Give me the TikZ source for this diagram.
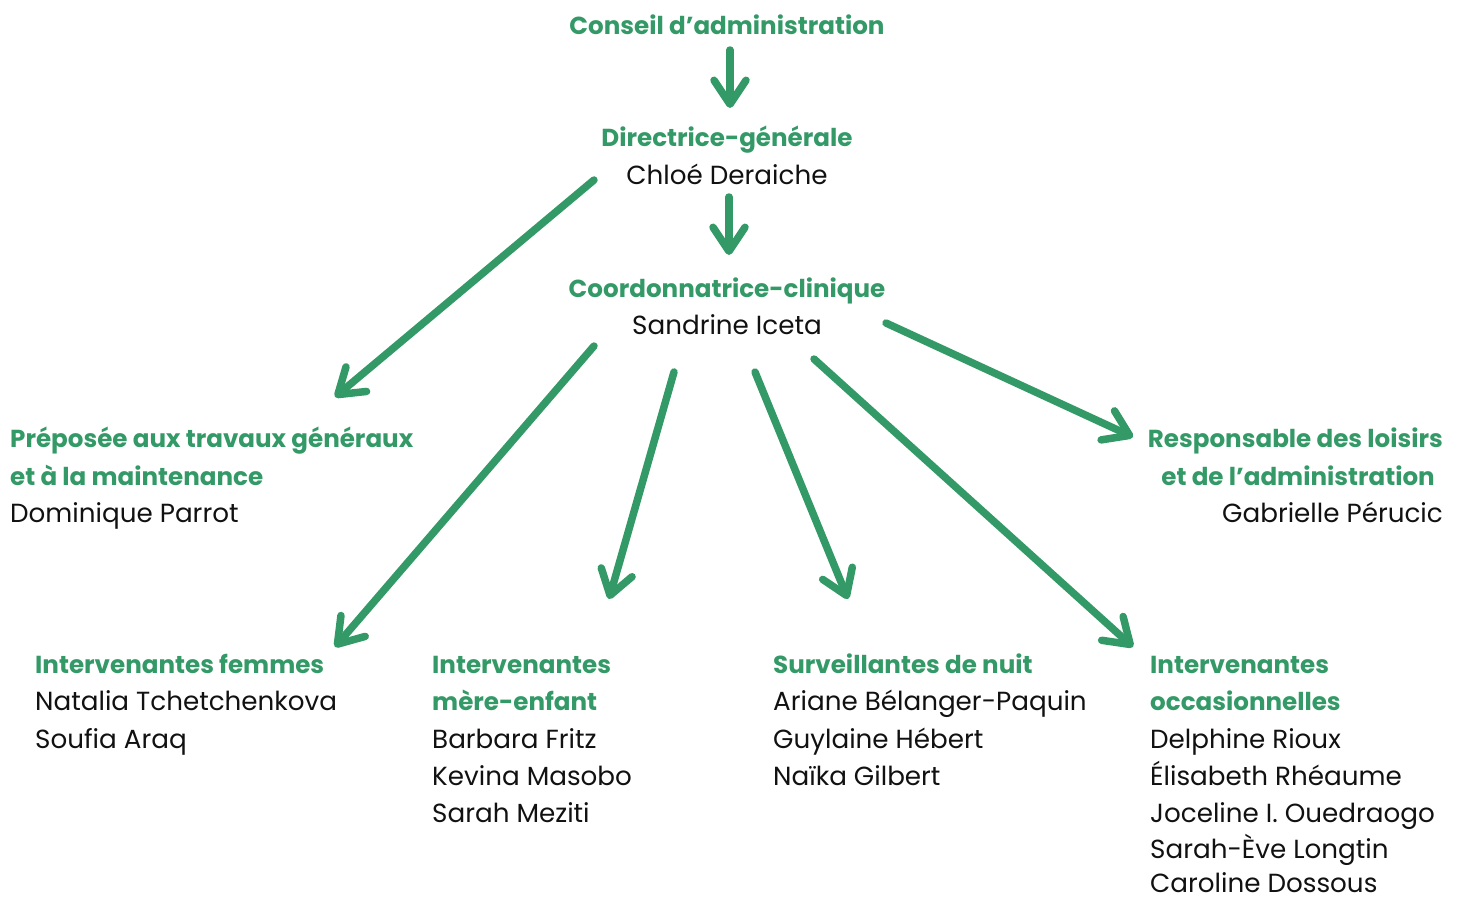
\documentclass[tikz,border=0pt]{standalone}
\usepackage{fontspec}
\setmainfont{Poppins}
\usetikzlibrary{arrows.meta}
\definecolor{vert}{HTML}{339966}
\definecolor{noir}{HTML}{111111}
\tikzset{
  ttl/.style={anchor=base west, inner sep=0pt, text=vert, font=\fontsize{24.6}{28}\selectfont\bfseries},
  nm/.style={anchor=base west, inner sep=0pt, text=noir, font=\fontsize{26.2}{30}\selectfont},
  lnk/.style={draw=vert, line width=7.5pt, line cap=round,
    -{Straight Barb[length=24pt,width=32pt,round]}}
}
\begin{document}
\begin{tikzpicture}[x=1pt,y=-1pt]
\useasboundingbox (0,0) rectangle (1460,900);
% top
\node[ttl, anchor=base] (ca) at (727,34) {Conseil d’administration};
\node[ttl, anchor=base] (dg) at (727,146) {Directrice-générale};
\node[nm, anchor=base] (dgn) at (727,184) {Chloé Deraiche};
\node[ttl, anchor=base] (cc) at (727,297) {Coordonnatrice-clinique};
\node[nm, anchor=base] (ccn) at (727,334) {Sandrine Iceta};
% left middle
\node[ttl] (pp1) at (10,447) {Préposée aux travaux généraux};
\node[ttl] (pp2) at (10,485) {et à la maintenance};
\node[nm] (pp3) at (10,522) {Dominique Parrot};
% right middle
\node[ttl, anchor=base east] (rl1) at (1443,447) {Responsable des loisirs};
\node[ttl, anchor=base east] (rl2) at (1435,485) {et de l’administration};
\node[nm, anchor=base east] (rl3) at (1443,522) {Gabrielle Pérucic};
% bottom groups
\node[ttl] (if1) at (35,673) {Intervenantes femmes};
\node[nm] (if2) at (35,710) {Natalia Tchetchenkova};
\node[nm] (if3) at (35,748) {Soufia Araq};
\node[ttl] (me1) at (432,673) {Intervenantes};
\node[ttl] (me2) at (432,710) {mère-enfant};
\node[nm] (me3) at (432,748) {Barbara Fritz};
\node[nm] (me4) at (432,785) {Kevina Masobo};
\node[nm] (me5) at (432,822) {Sarah Meziti};
\node[ttl] (sn1) at (773,673) {Surveillantes de nuit};
\node[nm] (sn2) at (773,710) {Ariane Bélanger-Paquin};
\node[nm] (sn3) at (773,748) {Guylaine Hébert};
\node[nm] (sn4) at (773,785) {Naïka Gilbert};
\node[ttl] (io1) at (1150,673) {Intervenantes};
\node[ttl] (io2) at (1150,710) {occasionnelles};
\node[nm] (io3) at (1150,748) {Delphine Rioux};
\node[nm] (io4) at (1150,785) {Élisabeth Rhéaume};
\node[nm] (io5) at (1150,822) {Joceline I. Ouedraogo};
\node[nm] (io6) at (1150,858) {Sarah-Ève Longtin};
\node[nm] (io7) at (1150,892) {Caroline Dossous};
% connector end points
\coordinate (a1s) at (730,50);  \coordinate (a1e) at (730,108);
\coordinate (a2s) at (729,197); \coordinate (a2e) at (729,255);
\coordinate (a3s) at (594,180); \coordinate (a3e) at (335,397);
\coordinate (a4s) at (886,323); \coordinate (a4e) at (1133,437);
\coordinate (a5s) at (594,346); \coordinate (a5e) at (335,647);
\coordinate (a6s) at (674,372); \coordinate (a6e) at (609,599);
\coordinate (a7s) at (755,372); \coordinate (a7e) at (848,599);
\coordinate (a8s) at (814,359); \coordinate (a8e) at (1133,647);
\draw[lnk] (a1s) -- (a1e);
\draw[lnk] (a2s) -- (a2e);
\draw[lnk] (a3s) -- (a3e);
\draw[lnk] (a4s) -- (a4e);
\draw[lnk] (a5s) -- (a5e);
\draw[lnk] (a6s) -- (a6e);
\draw[lnk] (a7s) -- (a7e);
\draw[lnk] (a8s) -- (a8e);
\end{tikzpicture}
\end{document}
